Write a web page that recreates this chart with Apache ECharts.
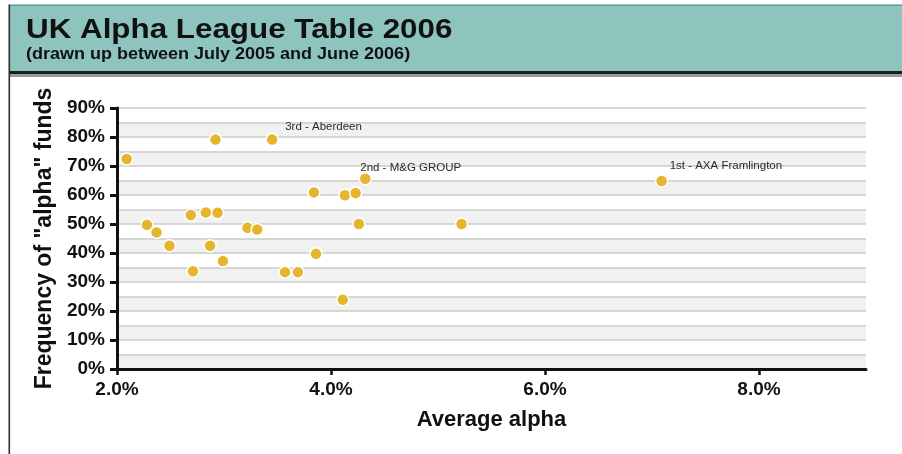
<!DOCTYPE html>
<html>
<head>
<meta charset="utf-8">
<title>UK Alpha League Table 2006</title>
<script src="https://cdn.jsdelivr.net/npm/echarts@6/dist/echarts.min.js"></script>
<style>
  html, body { margin: 0; padding: 0; background: #ffffff; }
  #chart { width: 902px; height: 454px; }
</style>
</head>
<body>
<div id="chart"></div>
<script>
// Average alpha (%) and share of funds producing positive alpha (%), one entry per fund group
const avgAlpha = [2.09, 2.92, 3.45, 2.28, 2.37, 2.49, 2.69, 2.71, 2.83, 2.94, 2.87, 2.99, 3.22,
                  3.31, 3.57, 3.69, 3.84, 3.86, 4.13, 4.23, 4.32, 4.26, 4.11, 5.22, 7.09];
const alphaFreq = [72.4, 79.1, 79.1, 49.7, 47.1, 42.5, 53.1, 33.7, 54.0, 53.9, 42.5, 37.2, 48.7,
                   48.1, 33.4, 33.4, 60.9, 39.7, 59.9, 60.7, 65.6, 50.0, 23.9, 50.0, 64.8];
// League positions for the top three groups ('' = unlabelled)
const groupNames = ['', '', '3rd - Aberdeen', '', '', '', '', '', '', '', '', '', '',
                    '', '', '', '', '', '', '', '2nd - M&G GROUP', '', '', '', '1st - AXA Framlington'];

// Axis ticks
const xTicks = [2, 4, 6, 8];
const yTicks = [0, 10, 20, 30, 40, 50, 60, 70, 80, 90];

// Where each league label sits relative to its dot
const labelOffsets = {
  '3rd - Aberdeen': [13, -13],
  '2nd - M&G GROUP': [-5, -11],
  '1st - AXA Framlington': [8, -15]
};

const points = avgAlpha.map((x, i) => {
  const item = { value: [x, alphaFreq[i]] };
  const name = groupNames[i];
  if (name) {
    item.name = name;
    item.label = {
      show: true,
      position: 'inside',
      align: 'left',
      verticalAlign: 'middle',
      offset: labelOffsets[name],
      formatter: name,
      color: '#2a2a2a',
      fontSize: 11.5,
      fontFamily: 'Liberation Sans, Arial, sans-serif'
    };
  }
  return item;
});

const AX_FONT = 'Liberation Sans, Arial, sans-serif';

const chart = echarts.init(document.getElementById('chart'), null, { renderer: 'canvas' });
chart.setOption({
  animation: false,
  backgroundColor: '#ffffff',
  graphic: [
    // header band
    { type: 'rect', shape: { x: 10, y: 5, width: 892, height: 66 },
      style: { fill: '#8ec4be' }, z: 0 },
    { type: 'rect', shape: { x: 10, y: 4.5, width: 892, height: 1.2 },
      style: { fill: '#4e8e88' }, z: 1 },
    { type: 'rect', shape: { x: 10, y: 71, width: 892, height: 3 },
      style: { fill: '#15201f' }, z: 1 },
    { type: 'rect', shape: { x: 10, y: 74, width: 892, height: 3 },
      style: { fill: '#9a9a9a' }, z: 1 },
    // left frame line
    { type: 'rect', shape: { x: 8.5, y: 4.5, width: 1.6, height: 450 },
      style: { fill: '#2b2b2b' }, z: 2 },
    { type: 'text', x: 26, y: 30, scaleX: 1.12, z: 3,
      style: { text: 'UK Alpha League Table 2006', fill: '#111111',
               font: 'bold 28px Liberation Sans, Arial, sans-serif',
               align: 'left', verticalAlign: 'middle' } },
    { type: 'text', x: 26, y: 54.5, scaleX: 1.125, z: 3,
      style: { text: '(drawn up between July 2005 and June 2006)', fill: '#111111',
               font: 'bold 16px Liberation Sans, Arial, sans-serif',
               align: 'left', verticalAlign: 'middle' } }
  ],
  grid: { left: 117, right: 36, top: 108, bottom: 85, containLabel: false },
  xAxis: {
    type: 'value',
    min: 2, max: 9, interval: 2,
    name: 'Average alpha',
    nameLocation: 'middle',
    nameGap: 40,
    nameTextStyle: { fontFamily: AX_FONT, fontWeight: 'bold', fontSize: 22, color: '#111111' },
    axisLine: { show: true, onZero: false, lineStyle: { color: '#111111', width: 3 } },
    axisTick: { show: true, customValues: xTicks, length: 6, inside: false,
                lineStyle: { color: '#111111', width: 2.5 } },
    axisLabel: { customValues: xTicks, margin: 11, fontFamily: AX_FONT, fontWeight: 'bold',
                 fontSize: 19, color: '#111111',
                 formatter: v => v.toFixed(1) + '%' },
    splitLine: { show: false }
  },
  yAxis: [{
    // labelled axis: ticks every 10%
    type: 'value',
    min: 0, max: 90, interval: 10,
    position: 'left',
    name: 'Frequency of "alpha" funds',
    nameLocation: 'middle',
    nameGap: 59,
    nameTextStyle: { fontFamily: AX_FONT, fontWeight: 'bold', fontSize: 23, color: '#111111' },
    axisLine: { show: true, lineStyle: { color: '#111111', width: 3 } },
    axisTick: { show: true, customValues: yTicks, length: 7, inside: false,
                lineStyle: { color: '#111111', width: 3 } },
    axisLabel: { customValues: yTicks, margin: 12, fontFamily: AX_FONT, fontWeight: 'bold',
                 fontSize: 19, color: '#111111',
                 formatter: v => v + '%' },
    splitLine: { show: false },
    splitArea: { show: false },
    z: 3
  }, {
    // background banding every 5%
    type: 'value',
    min: 0, max: 90, interval: 5,
    position: 'left',
    axisLine: { show: false },
    axisTick: { show: false },
    axisLabel: { show: false },
    splitLine: { show: true, lineStyle: { color: '#cbcbcb', width: 1.5 } },
    splitArea: { show: true, areaStyle: { color: ['#f1f1f1', '#ffffff'] } },
    z: 0
  }],
  series: [{
    type: 'scatter',
    yAxisIndex: 0,
    data: points,
    symbol: 'circle',
    symbolSize: 12,
    itemStyle: { color: '#e6b52e', borderColor: '#ffffff', borderWidth: 1.5, opacity: 1 },
    emphasis: { disabled: true },
    z: 5
  }]
});
</script>
</body>
</html>
